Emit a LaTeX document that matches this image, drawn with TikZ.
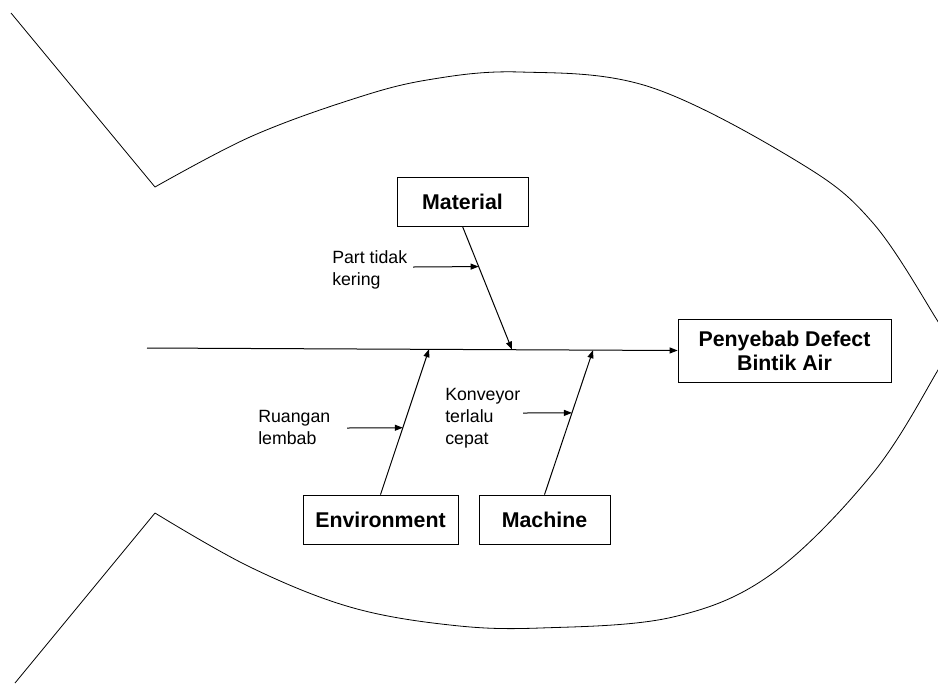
\documentclass[tikz,border=0pt]{standalone}
\usepackage{fontspec}
\setmainfont{Liberation Sans}
\usetikzlibrary{arrows.meta,calc}
\begin{document}
\begin{tikzpicture}[x=0.75pt,y=-0.75pt,
  outline/.style={line width=0.6pt},
  bone/.style={line width=0.75pt},
  tip/.style={-{Triangle[length=6pt,width=4.5pt]}},
  catbox/.style={draw,line width=0.6pt,minimum width=#1,minimum height=36.75pt,
    inner sep=0pt,font=\fontsize{16}{18}\selectfont\bfseries},
  cause/.style={anchor=north west,inner sep=0pt,align=left,
    font=\fontsize{13.3}{16.5}\selectfont}]
\useasboundingbox (0,0) rectangle (938,683);
\clip (0,0) rectangle (938,683);

% fish outline: tail and body
\draw[outline] (11,13) -- (155,187);
\draw[outline] (15,683) -- (155,513);
\draw[outline] plot[smooth,tension=0.6] coordinates {(155,187) (250,137) (350,100) (427,80) (520,72) (650,87) (800,163) (873,223) (937,320) (950,345)};
\draw[outline] plot[smooth,tension=0.6] coordinates {(950,345) (938,370) (873,473) (773,573) (673,617) (540,628) (450,625) (350,607) (250,567) (155,513)};

% head and category boxes
\node[catbox=159.75pt,minimum height=47.25pt,align=center,
  font=\fontsize{16}{18}\selectfont\bfseries] (eff) at (784.5,350.5) {Penyebab Defect\\Bintik Air};
\node[catbox=98.25pt] (mat) at (462.5,201.5) {Material};
\node[catbox=116.25pt] (env) at (380.5,519.5) {Environment};
\node[catbox=98.25pt] (mac) at (544.5,519.5) {Machine};

% spine
\coordinate (tailend) at (147,348);
\draw[bone,tip] (tailend) -- (eff.west);

% bones
\coordinate (matTip) at (512,349.6);
\coordinate (envTip) at (429,349.2);
\coordinate (macTip) at (593,350.2);
\draw[bone,tip] (mat.south) -- (matTip);
\draw[bone,tip] (env.north) -- (envTip);
\draw[bone,tip] (mac.north) -- (macTip);

% causes
\node[cause] (c1) at (332,250) {Part tidak\\kering};
\coordinate (a1) at (413,267);
\draw[bone,tip] (a1) -- ($(mat.south)!0.326!(matTip)$);

\node[cause] (c2) at (258,410) {Ruangan\\lembab};
\coordinate (a2) at (347,428);
\draw[bone,tip] (a2) -- ($(env.north)!0.46!(envTip)$);

\node[cause] (c3) at (445,388) {Konveyor\\terlalu\\cepat};
\coordinate (a3) at (523,413);
\draw[bone,tip] (a3) -- ($(mac.north)!0.566!(macTip)$);
\end{tikzpicture}
\end{document}
